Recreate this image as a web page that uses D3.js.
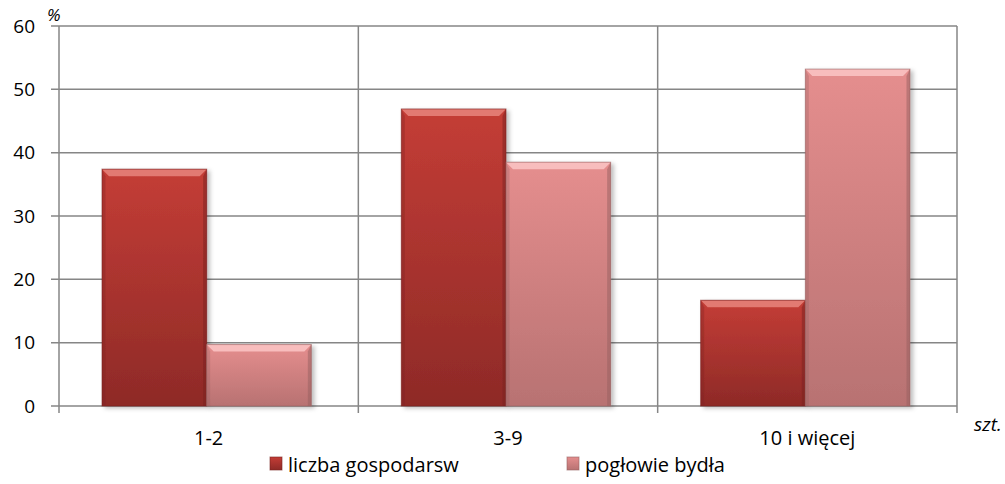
<!DOCTYPE html>
<html>
<head>
<meta charset="utf-8">
<script src="https://cdn.jsdelivr.net/npm/d3@7"></script>
<style>
  body { margin: 0; background: #fff; }
  svg { display: block; font-family: "Open Sans", "Noto Sans", sans-serif; }
</style>
</head>
<body>
<div id="chart"></div>
<script>
const categories = ['1-2', '3-9', '10 i więcej'];
const seriesNames = ['liczba gospodarsw', 'pogłowie bydła'];
const farms = [37.4, 46.9, 16.7];
const cattle = [9.7, 38.5, 53.2];
const yTicks = [0, 10, 20, 30, 40, 50, 60];

const width = 1005, height = 484;
const margin = { top: 26, right: 48, bottom: 78, left: 59 };

const svg = d3.select('#chart').append('svg')
    .attr('width', width)
    .attr('height', height);

const defs = svg.append('defs');
const palettes = [
    { top: '#c43d36', bottom: '#8e2a27', bevel: '#e8857c', edge: '#7a2220' },
    { top: '#e58e8e', bottom: '#b87272', bevel: '#fbc6c6', edge: '#966060' }
];
palettes.forEach((p, i) => {
    const g = defs.append('linearGradient')
        .attr('id', 'grad' + i)
        .attr('x1', 0).attr('y1', 0).attr('x2', 0).attr('y2', 1);
    g.append('stop').attr('offset', '0%').attr('stop-color', p.top);
    g.append('stop').attr('offset', '100%').attr('stop-color', p.bottom);
});
const shadow = defs.append('filter').attr('id', 'shadow')
    .attr('x', '-10%').attr('y', '-10%').attr('width', '130%').attr('height', '130%');
shadow.append('feDropShadow')
    .attr('dx', 3).attr('dy', 2).attr('stdDeviation', 2)
    .attr('flood-color', '#000').attr('flood-opacity', 0.25);

const x = d3.scaleBand()
    .domain(categories)
    .range([margin.left, width - margin.right]);

const inner = d3.scaleBand()
    .domain([0, 1])
    .range([-2, x.bandwidth() - 2])
    .paddingInner(0)
    .paddingOuter(0.43);

const y = d3.scaleLinear()
    .domain([0, 60])
    .range([height - margin.bottom, margin.top]);

const gridColor = '#868686';

// horizontal gridlines
svg.append('g')
    .selectAll('line')
    .data(yTicks)
    .join('line')
    .attr('x1', margin.left - 8)
    .attr('x2', width - margin.right)
    .attr('y1', d => y(d))
    .attr('y2', d => y(d))
    .attr('stroke', gridColor)
    .attr('stroke-width', 1.5);

// vertical gridlines between categories
const bounds = [margin.left, ...categories.map(c => x(c) + x.bandwidth())];
svg.append('g')
    .selectAll('line')
    .data(bounds)
    .join('line')
    .attr('x1', d => d)
    .attr('x2', d => d)
    .attr('y1', margin.top)
    .attr('y2', y(0) + 7)
    .attr('stroke', gridColor)
    .attr('stroke-width', 1.5);

// y tick labels
svg.append('g')
    .selectAll('text')
    .data(yTicks)
    .join('text')
    .attr('x', 35)
    .attr('y', d => y(d))
    .attr('dy', '0.35em')
    .attr('text-anchor', 'end')
    .attr('font-size', 19)
    .attr('fill', '#000')
    .text(d => d);

// x labels
svg.append('g')
    .selectAll('text')
    .data(categories)
    .join('text')
    .attr('x', d => x(d) + x.bandwidth() / 2)
    .attr('y', 445)
    .attr('text-anchor', 'middle')
    .attr('font-size', 20)
    .attr('fill', '#000')
    .text(d => d);

svg.append('text')
    .attr('x', 47).attr('y', 21)
    .attr('font-size', 17).attr('font-style', 'italic')
    .text('%');

svg.append('text')
    .attr('x', 974).attr('y', 431)
    .attr('font-size', 19).attr('font-style', 'italic')
    .text('szt.');

// bars
const rows = categories.map((c, i) => ({ cat: c, values: [farms[i], cattle[i]] }));
const bars = svg.append('g')
    .selectAll('g')
    .data(rows.flatMap(r => r.values.map((v, s) => ({ cat: r.cat, s, v }))))
    .join('g')
    .attr('filter', 'url(#shadow)');

function drawBar(g, d) {
    const x0 = x(d.cat) + inner(d.s);
    const w = inner.bandwidth();
    const y0 = y(d.v);
    const h = y(0) - y0;
    const p = palettes[d.s];
    const b = 7;
    g.append('rect')
        .attr('x', x0).attr('y', y0).attr('width', w).attr('height', h)
        .attr('fill', `url(#grad${d.s})`);
    // top bevel
    g.append('path')
        .attr('d', `M${x0},${y0}L${x0 + w},${y0}L${x0 + w - b},${y0 + b}L${x0 + b},${y0 + b}Z`)
        .attr('fill', p.bevel).attr('opacity', 0.85);
    // side edges
    g.append('path')
        .attr('d', `M${x0},${y0}L${x0 + b / 2},${y0 + b}L${x0 + b / 2},${y0 + h}L${x0},${y0 + h}Z`)
        .attr('fill', p.edge).attr('opacity', 0.3);
    g.append('path')
        .attr('d', `M${x0 + w},${y0}L${x0 + w - b / 2},${y0 + b}L${x0 + w - b / 2},${y0 + h}L${x0 + w},${y0 + h}Z`)
        .attr('fill', p.edge).attr('opacity', 0.5);
    g.append('rect')
        .attr('x', x0).attr('y', y0).attr('width', w).attr('height', h)
        .attr('fill', 'none').attr('stroke', p.edge).attr('stroke-opacity', 0.6).attr('stroke-width', 1);
}
bars.each(function (d) { drawBar(d3.select(this), d); });

// legend
const legendX = [270, 567];
const legend = svg.append('g')
    .selectAll('g')
    .data(seriesNames)
    .join('g')
    .attr('transform', (d, i) => `translate(${legendX[i]},0)`);
legend.append('rect')
    .attr('x', 0).attr('y', 457).attr('width', 12).attr('height', 13)
    .attr('fill', (d, i) => `url(#grad${i})`)
    .attr('stroke', (d, i) => palettes[i].edge)
    .attr('stroke-opacity', 0.6);
legend.append('text')
    .attr('x', 18).attr('y', 472)
    .attr('font-size', 20)
    .text(d => d);
</script>
</body>
</html>
